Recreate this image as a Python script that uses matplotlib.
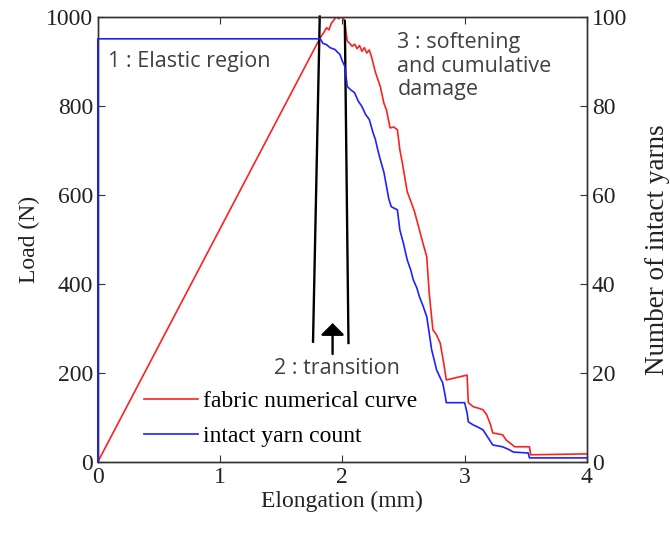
import matplotlib
matplotlib.use("Agg")
import matplotlib.pyplot as plt

# fabric numerical curve: load (N) vs elongation (mm)
load_x = [0, 1.82, 1.85, 1.87, 1.89, 1.91, 1.93, 1.95, 1.97, 1.99, 2.01, 2.02,
          2.03, 2.04, 2.06, 2.08, 2.10, 2.12, 2.14, 2.16, 2.18, 2.20, 2.22, 2.24,
          2.27, 2.31, 2.34, 2.36, 2.39, 2.42, 2.45, 2.47, 2.49, 2.53, 2.56, 2.59,
          2.63, 2.66, 2.69, 2.71, 2.74, 2.77, 2.80, 2.83, 2.85, 3.02, 3.03, 3.07,
          3.12, 3.15, 3.18, 3.21, 3.23, 3.31, 3.34, 3.41, 3.53, 3.54, 4.0]
load_y = [0, 953, 965, 975, 970, 985, 992, 1000, 995, 1002, 995, 990,
          965, 945, 940, 933, 938, 928, 935, 922, 930, 918, 925, 908,
          875, 843, 805, 791, 750, 752, 746, 701, 672, 607, 585, 562,
          521, 490, 461, 380, 297, 285, 267, 220, 184, 195, 133, 124,
          120, 117, 106, 85, 65, 61, 49, 34, 34, 16, 18]

# intact yarn count
yarn_x = [0, 0, 1.82, 1.84, 1.87, 1.90, 1.94, 1.96, 1.98, 2.00, 2.02, 2.04,
          2.07, 2.10, 2.13, 2.16, 2.19, 2.22, 2.25, 2.27, 2.29, 2.31, 2.34,
          2.36, 2.38, 2.40, 2.45, 2.47, 2.50, 2.53, 2.56, 2.58, 2.61, 2.63,
          2.66, 2.69, 2.71, 2.73, 2.75, 2.77, 2.80, 2.82, 2.84, 2.85, 3.00,
          3.02, 3.03, 3.07, 3.11, 3.15, 3.19, 3.23, 3.31, 3.36, 3.40, 3.52,
          3.53, 4.0]
yarn_y = [0, 95, 95, 94, 93.7, 93, 92.6, 92, 91.5, 90, 88.8, 84.3,
          83.5, 82.9, 81, 79.8, 78, 76.9, 74, 72.4, 70, 67.9, 65,
          62, 59, 57.3, 56.6, 52.1, 49, 45.4, 43, 40.9, 39, 37.1,
          35, 32.6, 29, 25.2, 23, 20.7, 18.9, 17.8, 15, 13.3, 13.3,
          11, 9, 8.3, 7.8, 7.2, 5.5, 3.8, 3.4, 2.8, 2.2, 2.0,
          0.9, 0.9]

# region boundaries (x_top, y_top, x_bottom, y_bottom)
left_bound = [1.815, 1000, 1.76, 270]
right_bound = [2.02, 990, 2.05, 267]

serif = "Liberation Serif"
sans = "Open Sans"

fig = plt.figure(figsize=(6.7, 5.34), dpi=100)
ax = fig.add_axes([0.146, 0.135, 0.730, 0.834])
ax2 = ax.twinx()

ax.plot(load_x, load_y, color="#ff2020", lw=1.2, label="fabric numerical curve")
ax2.plot(yarn_x, yarn_y, color="#2020ff", lw=1.2, zorder=3, clip_on=False)
ax.plot([], [], color="#2020ff", lw=1.2, label="intact yarn count")

ax.plot([left_bound[0], left_bound[2]], [left_bound[1], left_bound[3]],
        color="black", lw=1.7, clip_on=False, zorder=5)
ax.plot([right_bound[0], right_bound[2]], [right_bound[1], right_bound[3]],
        color="black", lw=1.7, clip_on=False, zorder=5)
ax.annotate("", xy=(1.92, 318), xytext=(1.92, 236),
            arrowprops=dict(arrowstyle="-|>,head_width=0.45,head_length=0.45",
                            color="black", lw=1.7, mutation_scale=16))

ax.set_xlim(0, 4)
ax.set_ylim(0, 1000)
ax2.set_ylim(0, 100)
ax.set_xticks([0, 1, 2, 3, 4])
ax.set_yticks([0, 200, 400, 600, 800, 1000])
ax2.set_yticks([0, 20, 40, 60, 80, 100])

for a in (ax, ax2):
    for s in a.spines.values():
        s.set_color("#333333")
        s.set_linewidth(1.0)
    a.tick_params(direction="in", length=5, color="#333333", labelsize=17,
                  labelcolor="#222222")
    for lab in a.get_xticklabels() + a.get_yticklabels():
        lab.set_fontfamily(serif)
ax.tick_params(top=True, right=False)
ax2.tick_params(left=False, right=True)

ax.set_xlabel("Elongation (mm)", fontsize=17, family=serif, color="#222222",
              labelpad=2)
ax.set_ylabel("Load (N)", fontsize=17, family=serif, color="#222222")
ax2.set_ylabel("Number of intact yarns", fontsize=19.5, family=serif,
               color="#222222")
ax2.yaxis.set_label_coords(1.119, 0.476)

ax.text(0.08, 899, "1 : Elastic region", fontsize=15.5, family=sans,
        color="#404040", va="center")
ax.text(2.45, 965, "3 : softening\nand cumulative\ndamage", fontsize=15.5,
        family=sans, color="#404040", va="top", linespacing=1.15)
ax.text(1.955, 209, "2 : transition", fontsize=15.5, family=sans,
        color="#404040", va="center", ha="center")

leg = ax.legend(loc="lower left", bbox_to_anchor=(0.051, -0.014), frameon=False,
                prop={"family": serif, "size": 17}, handlelength=2.3,
                handletextpad=0.2, labelspacing=0.55)

fig.savefig("out.png", dpi=100)
